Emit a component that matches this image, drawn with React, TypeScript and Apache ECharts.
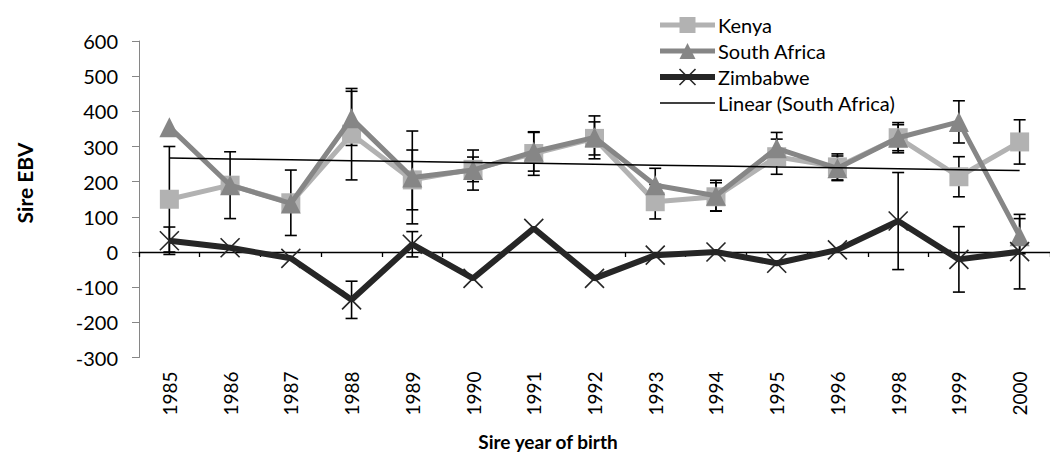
import React, { useEffect, useRef } from 'react';
import * as echarts from 'echarts';

const years = ['1985', '1986', '1987', '1988', '1989', '1990', '1991', '1992', '1993', '1994', '1995', '1996', '1998', '1999', '2000'];
const yTicks = { min: -300, max: 600, interval: 100 };

const kenya = [150, 190, 140, 335, 205, 235, 280, 323, 143, 157, 271, 242, 325, 214, 313];
const southAfrica = [355, 190, 138, 380, 212, 233, 285, 326, 190, 160, 295, 238, 325, 370, 45];
const zimbabwe = [32, 12, -18, -136, 22, -75, 67, -75, -9, 0, -32, 6, 88, -21, 1];

const kenyaErr = [150, 95, 93, 130, 85, 35, 62, 47, 49, 40, 50, 37, 43, 57, 63];
const southAfricaErr = [null, null, null, 77, 132, 57, 55, 61, 48, 44, 45, 35, 37, 60, 50];
const zimbabweErr = [39, null, null, 53, 36, null, null, null, null, null, null, null, 138, 93, 106];

const seriesNames = ['Kenya', 'South Africa', 'Zimbabwe', 'Linear (South Africa)'];

const FONT = 'Lato';

function linearTrend(vals: number[]): number[] {
  const n = vals.length;
  const mx = (n - 1) / 2;
  const my = vals.reduce((a, b) => a + b, 0) / n;
  let sxy = 0;
  let sxx = 0;
  vals.forEach((v, i) => {
    sxy += (i - mx) * (v - my);
    sxx += (i - mx) * (i - mx);
  });
  const slope = sxy / sxx;
  return vals.map((_, i) => my + slope * (i - mx));
}

function errSeries(name: string, vals: number[], errs: (number | null)[]) {
  const data: number[][] = [];
  vals.forEach((v, i) => {
    const e = errs[i];
    if (e != null) data.push([i, v - e, v + e]);
  });
  return {
    type: 'custom',
    name: name + ' err',
    xAxisIndex: 0,
    yAxisIndex: 0,
    z: 1,
    silent: true,
    encode: { x: 0, y: [1, 2] },
    data,
    renderItem: (params: any, api: any) => {
      const lo = api.coord([api.value(0), api.value(1)]);
      const hi = api.coord([api.value(0), api.value(2)]);
      const w = 6;
      const style = { stroke: '#000', lineWidth: 1.6, fill: 'none' };
      return {
        type: 'group',
        children: [
          { type: 'line', shape: { x1: lo[0], y1: lo[1], x2: hi[0], y2: hi[1] }, style },
          { type: 'line', shape: { x1: lo[0] - w, y1: lo[1], x2: lo[0] + w, y2: lo[1] }, style },
          { type: 'line', shape: { x1: hi[0] - w, y1: hi[1], x2: hi[0] + w, y2: hi[1] }, style },
        ],
      };
    },
  };
}

export default function App() {
  const ref = useRef<HTMLDivElement>(null);
  useEffect(() => {
    const chart = echarts.init(ref.current!, null, { renderer: 'svg' });
    const trend = linearTrend(southAfrica);
    const option: any = {
      animation: false,
      backgroundColor: '#fff',
      textStyle: { fontFamily: FONT },
      grid: { left: 139, top: 41, width: 919.5, height: 316.5, containLabel: false },
      legend: {
        data: [
          { name: seriesNames[0], lineStyle: { width: 5, color: '#b2b2b2' } },
          { name: seriesNames[1], lineStyle: { width: 5, color: '#868686' } },
          { name: seriesNames[2], lineStyle: { width: 6, color: '#262626' }, itemStyle: { borderWidth: 1.6, borderColor: '#262626' } },
          { name: seriesNames[3], lineStyle: { width: 1.5, color: '#000' }, itemStyle: { opacity: 0 } },
        ],
        orient: 'vertical',
        left: 652,
        top: 10,
        itemWidth: 55,
        itemHeight: 20,
        itemGap: 6,
        textStyle: { fontFamily: FONT, fontSize: 20, color: '#000', lineHeight: 20, padding: [0, 0, 0, -2] },
        selectedMode: false,
      },
      xAxis: [
        {
          type: 'category',
          data: years,
          position: 'bottom',
          boundaryGap: true,
          axisLine: { onZero: true, lineStyle: { color: '#000', width: 1.3 } },
          axisTick: { show: true, length: 5, lineStyle: { color: '#000', width: 1.3 } },
          axisLabel: { show: false },
          splitLine: { show: false },
        },
        {
          type: 'category',
          data: years,
          position: 'bottom',
          boundaryGap: true,
          axisLine: { show: false, onZero: false },
          axisTick: { show: false },
          axisLabel: { show: true, rotate: 90, margin: 14, fontFamily: FONT, fontSize: 19, color: '#000' },
          splitLine: { show: false },
        },
      ],
      yAxis: {
        type: 'value',
        min: yTicks.min,
        max: yTicks.max,
        interval: yTicks.interval,
        axisLine: { show: true, lineStyle: { color: '#868686', width: 1 } },
        axisTick: { show: true, length: 7, lineStyle: { color: '#868686' } },
        axisLabel: { margin: 21, fontFamily: FONT, fontSize: 20, color: '#000' },
        splitLine: { show: false },
      },
      graphic: [
        {
          type: 'text',
          x: 24,
          y: 183,
          rotation: Math.PI / 2,
          style: {
            text: 'Sire EBV',
            fontFamily: FONT,
            fontWeight: 'bold',
            fontSize: 21,
            fill: '#000',
            align: 'center',
            verticalAlign: 'middle',
          },
        },
        {
          type: 'text',
          x: 548,
          y: 441,
          style: {
            text: 'Sire year of birth',
            fontFamily: FONT,
            fontWeight: 'bold',
            fontSize: 19,
            fill: '#000',
            align: 'center',
            verticalAlign: 'middle',
          },
        },
      ],
      series: [
        errSeries('Kenya', kenya, kenyaErr),
        errSeries('South Africa', southAfrica, southAfricaErr),
        errSeries('Zimbabwe', zimbabwe, zimbabweErr),
        {
          type: 'line',
          name: 'Kenya',
          data: kenya,
          symbol: 'rect',
          symbolSize: 19,
          z: 3,
          lineStyle: { color: '#b2b2b2', width: 5 },
          itemStyle: { color: '#b2b2b2' },
        },
        {
          type: 'line',
          name: 'South Africa',
          data: southAfrica,
          symbol: 'triangle',
          symbolSize: 20,
          z: 4,
          lineStyle: { color: '#868686', width: 5 },
          itemStyle: { color: '#868686' },
        },
        {
          type: 'line',
          name: 'Zimbabwe',
          data: zimbabwe,
          symbol: 'path://M0,0L10,10M10,0L0,10',
          symbolSize: 19,
          z: 5,
          lineStyle: { color: '#262626', width: 6 },
          itemStyle: { color: '#262626', borderColor: '#262626', borderWidth: 1.6 },
        },
        {
          type: 'line',
          name: 'Linear (South Africa)',
          data: trend,
          symbol: 'none',
          z: 6,
          lineStyle: { color: '#000', width: 1.5 },
          itemStyle: { color: '#000' },
        },
      ],
    };
    chart.setOption(option);
    return () => chart.dispose();
  }, []);
  return <div ref={ref} style={{ position: 'absolute', left: 0, top: 0, width: 1050, height: 457 }} />;
}
